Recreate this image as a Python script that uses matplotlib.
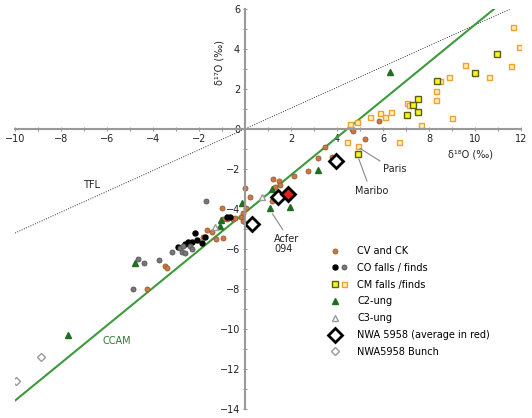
import matplotlib
matplotlib.use('Agg')
import matplotlib.pyplot as plt
from matplotlib.lines import Line2D
from matplotlib.legend_handler import HandlerTuple
from matplotlib.ticker import MultipleLocator

# oxygen isotope data (delta18O, delta17O)
cv_x = [4.67, 5.84, 5.2, 4.68, 3.48, 3.19, 2.72, 2.13, 1.23, 1.48, 1.52, 1.3, 3.78, 1.16, 0.0, 0.22,
        -0.99, 0.04, -0.07, -0.19, -0.51, -0.1, -0.94, -1.64, -1.45, -1.81, -1.28, -0.94, -3.48, -3.41,
        -4.25, -0.43, -0.8]
cv_y = [0.0, 0.42, -0.48, -0.08, -0.88, -1.47, -2.12, -2.33, -2.52, -2.58, -2.8, -2.88, -1.42, -3.58,
        -2.97, -3.42, -3.93, -3.97, -4.22, -4.38, -4.52, -4.6, -4.52, -5.05, -5.13, -5.38, -5.52, -5.43,
        -6.85, -6.97, -8.0, -4.47, -4.52]

co_fall_x = [-2.17, -2.46, -2.32, -2.1, -1.88, -2.9, -1.74, -0.8, -0.65, -2.6]
co_fall_y = [-5.22, -5.63, -5.67, -5.55, -5.68, -5.92, -5.38, -4.42, -4.42, -5.75]
co_find_x = [-4.86, -4.39, -4.67, -3.72, -3.19, -2.83, -2.75, -2.71, -2.39, -2.32, -1.7, -2.6]
co_find_y = [-8.0, -6.72, -6.5, -6.55, -6.17, -5.97, -6.13, -5.83, -5.87, -6.0, -3.6, -6.2]

cm_fall_x = [10.96, 10.0, 8.35, 7.54, 7.29, 7.52, 7.04, 4.93]
cm_fall_y = [3.73, 2.8, 2.38, 1.48, 1.2, 0.87, 0.72, -1.25]
cm_find_x = [11.64, 11.91, 11.55, 9.58, 10.62, 8.87, 8.48, 8.29, 8.3, 7.03, 7.13, 6.36, 5.87, 6.09,
             5.43, 9.0, 7.64, 4.86, 4.57, 4.42, 4.9, 6.68]
cm_find_y = [5.08, 4.12, 3.15, 3.18, 2.62, 2.62, 2.42, 1.9, 1.45, 1.32, 1.2, 0.85, 0.82, 0.62, 0.62,
             0.57, 0.18, 0.33, 0.23, -0.65, -0.85, -0.67]

c2_x = [6.3, 3.19, 1.16, 1.09, 1.96, -0.14, -1.04, -4.78, -7.68, -1.09]
c2_y = [2.83, -2.03, -3.0, -3.97, -3.88, -3.68, -4.55, -6.68, -10.28, -4.85]

c3_x = [-1.3, 0.72]
c3_y = [-4.92, -3.42]

nwa_x = [3.96, 1.45, 0.29]
nwa_y = [-1.58, -3.4, -4.75]
nwa_avg_x = [1.88]
nwa_avg_y = [-3.23]

bunch_x = [-9.97, -8.88]
bunch_y = [-12.58, -11.42]

# reference lines
ccam_x = [-10, 10.9]
ccam_y = [0.94 * v - 4.18 for v in ccam_x]
tfl_x = [-10, 11.5]
tfl_y = [0.52 * v for v in tfl_x]

fs = 7

fig = plt.figure(figsize=(5.32, 4.18), dpi=100)
ax = fig.add_axes([0.0282, 0.0215, 0.9511, 0.957])

ax.plot(tfl_x, tfl_y, color='#333333', lw=0.7, ls=(0, (1, 1.5)))
ax.plot(ccam_x, ccam_y, color='#3c9a3c', lw=1.5)

ms = 3.6
cv, = ax.plot(cv_x, cv_y, 'o', ms=ms, mfc='#c87a44', mec='#9a5a32', mew=0.6, ls='none')
cof, = ax.plot(co_fall_x, co_fall_y, 'o', ms=ms, mfc='black', mec='black', ls='none')
con, = ax.plot(co_find_x, co_find_y, 'o', ms=ms, mfc='#777777', mec='#555555', mew=0.6, ls='none')
cmn, = ax.plot(cm_find_x, cm_find_y, 's', ms=3.6, mfc='#fff2c0', mec='#f0a030', mew=1.0, ls='none')
cmf, = ax.plot(cm_fall_x, cm_fall_y, 's', ms=5, mfc='#f5f520', mec='#5e5e10', mew=1.0, ls='none')
c2, = ax.plot(c2_x, c2_y, '^', ms=5, mfc='#1f6e22', mec='#1f6e22', ls='none')
c3, = ax.plot(c3_x, c3_y, '^', ms=4.5, mfc='white', mec='#999999', mew=1.0, ls='none')
nwa, = ax.plot(nwa_x, nwa_y, 'D', ms=7, mfc='white', mec='black', mew=2.0, ls='none')
ax.plot(nwa_avg_x, nwa_avg_y, 'D', ms=7, mfc='#e02020', mec='black', mew=2.0, ls='none')
bunch, = ax.plot(bunch_x, bunch_y, 'D', ms=4.5, mfc='white', mec='#999999', mew=1.0, ls='none')

# axes crossing at the origin
ax.set_xlim(-10, 12)
ax.set_ylim(-14, 6)
for side in ['top', 'right']:
    ax.spines[side].set_visible(False)
ax.spines['left'].set_position(('data', 0))
ax.spines['bottom'].set_position(('data', 0))
for side in ['left', 'bottom']:
    ax.spines[side].set_color('#999999')
    ax.spines[side].set_linewidth(1.5)
ax.xaxis.set_minor_locator(MultipleLocator(1))
ax.yaxis.set_minor_locator(MultipleLocator(1))
ax.tick_params(which='both', direction='inout', length=3, width=0.8, color='#999999',
               labelsize=fs, labelcolor='#222222', pad=2)
ax.set_xticks([v for v in range(-10, 13, 2) if v != 0])
ax.set_yticks([v for v in range(-14, 7, 2)])
ax.patch.set_alpha(0)

ax.text(9.8, -1.3, 'δ¹⁸O (‰)', fontsize=fs, ha='center', va='center', color='#222222')
ax.text(-1.09, 3.3, 'δ¹⁷O (‰)', fontsize=fs, ha='center', va='center', rotation=90, color='#222222')
ax.text(-6.67, -2.8, 'TFL', fontsize=fs, ha='center', va='center', color='#222222')
ax.text(-5.58, -10.6, 'CCAM', fontsize=fs, ha='center', va='center', color='#2f7a2f')

ax.plot([5.0, 5.87], [-0.97, -1.6], color='#888888', lw=0.8)
ax.text(6.0, -2.0, 'Paris', fontsize=fs, ha='left', va='center', color='#222222')
ax.plot([4.95, 5.3], [-1.5, -2.6], color='#888888', lw=0.8)
ax.text(4.8, -3.08, 'Maribo', fontsize=fs, ha='left', va='center', color='#222222')
ax.plot([1.2, 1.64], [-4.25, -5.03], color='#888888', lw=0.8)
ax.text(1.27, -5.75, 'Acfer\n094', fontsize=fs, ha='left', va='center', color='#222222',
        linespacing=0.95)

blank = Line2D([], [], ls='none')
handles = [(cv, blank), (cof, con), (cmf, cmn), (c2, blank), (c3, blank), (nwa, blank), (bunch, blank)]
labels = ['CV and CK', 'CO falls / finds', 'CM falls /finds', 'C2-ung', 'C3-ung',
          'NWA 5958 (average in red)', 'NWA5958 Bunch']
ax.legend(handles, labels, handler_map={tuple: HandlerTuple(ndivide=None, pad=0.4)},
          loc='upper left', bbox_to_anchor=(0.628, 0.4075), frameon=False, fontsize=fs,
          handlelength=1.4, handletextpad=1.1, labelspacing=0.7, borderaxespad=0,
          borderpad=0)

fig.savefig('out.png', dpi=100)
